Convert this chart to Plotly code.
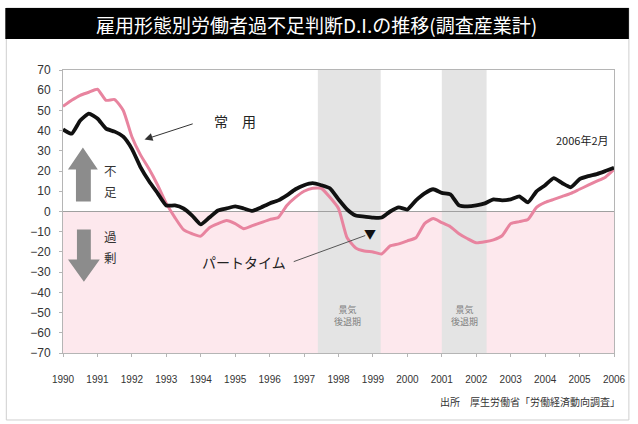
import plotly.graph_objects as go

# ---- data (quarterly survey: Feb, May, Aug, Nov) ----
year_labels = [str(y) for y in range(1990, 2007)]
quarters = [f"{y}/{m}" for y in range(1990, 2006) for m in (2, 5, 8, 11)] + ["2006/2"]

regular = [  # 常用
    40.6, 38.5, 45, 48.4,
    46, 41, 39.5, 37,
    31, 22, 15, 9,
    3, 3, 1.5, -2,
    -6.4, -3, 0.5, 1.5,
    2.5, 1.5, 0.3, 2,
    4, 5.5, 8, 11,
    13, 14, 13, 11.5,
    6, 1, -2, -2.5,
    -3, -3, 0, 2,
    1, 5.5, 9, 11,
    9.2, 8.5, 3, 2.5,
    3, 4, 6, 5.5,
    6, 7.5, 4.5, 10,
    13, 16.5, 14, 12,
    16, 17.5, 18.5, 20,
    21.6,
]
parttime = [  # パートタイム
    52, 55, 57.5, 59,
    60.5, 55, 55.4, 50,
    37, 28, 21, 13,
    4, -3, -9, -11,
    -12.2, -8, -6, -4.5,
    -6, -8.5, -7, -5.5,
    -4, -3, 3, 7,
    10, 11.5, 11.5, 7,
    1.5, -13, -18, -19.5,
    -20, -21, -17, -16,
    -14.5, -13, -6, -3.5,
    -5.5, -7.5, -11, -13.5,
    -15.5, -15, -14, -12,
    -6, -5, -4, 2,
    4.5, 6, 7.5, 9,
    11, 13, 15, 17,
    20.8,
]
recessions = [(29.6, 36.9), (44.0, 49.2)]  # category-index spans
y_ticks = list(range(-70, 71, 10))

CJK = "Noto Sans CJK JP"
NUM = "Liberation Sans, Arial, sans-serif"

fig = go.Figure()
fig.add_trace(go.Scatter(x=quarters, y=parttime, mode="lines",
                         line=dict(color="#e8849f", width=3, shape="spline", smoothing=0.5),
                         name="パートタイム", hoverinfo="skip"))
fig.add_trace(go.Scatter(x=quarters, y=regular, mode="lines",
                         line=dict(color="#111111", width=3.8, shape="spline", smoothing=0.5),
                         name="常用", hoverinfo="skip"))

shapes = []
# pink background below zero
shapes.append(dict(type="rect", xref="paper", yref="y", x0=0, x1=1, y0=-70, y1=0,
                   fillcolor="#fde8ed", line_width=0, layer="below"))
for a, b in recessions:
    shapes.append(dict(type="rect", xref="x", yref="y", x0=a, x1=b, y0=-70, y1=70,
                       fillcolor="#e4e4e4", line_width=0, layer="below"))
# title bar and outer frame
shapes.append(dict(type="rect", xref="paper", yref="paper", x0=-0.1029, x1=1.027,
                   y0=-0.2367, y1=1.219, line=dict(color="#cfcfcf", width=1)))
shapes.append(dict(type="rect", xref="paper", yref="paper", x0=-0.1047, x1=1.027,
                   y0=1.1095, y1=1.219, fillcolor="#000000", line_width=0))
# up arrow (不足)
shapes.append(dict(type="path", xref="paper", yref="y", fillcolor="#8c8c8c", line_width=0,
                   path="M 0.0235,5 L 0.0505,5 L 0.0505,20.8 L 0.0632,20.8 L 0.0361,31.7 "
                        "L 0.009,20.8 L 0.0235,20.8 Z"))
# down arrow (過剰)
shapes.append(dict(type="path", xref="paper", yref="y", fillcolor="#8c8c8c", line_width=0,
                   path="M 0.0253,-8.9 L 0.0505,-8.9 L 0.0505,-23.8 L 0.0668,-23.8 L 0.0379,-34.7 "
                        "L 0.009,-23.8 L 0.0253,-23.8 Z"))
# leader line for パートタイム
shapes.append(dict(type="line", xref="x", yref="y", x0=26.8, y0=-24.8, x1=35.1, y1=-11.9,
                   line=dict(color="#555555", width=1)))

ann = []
ann.append(dict(xref="paper", yref="paper", x=0.4603, y=1.1625, xanchor="center",
                yanchor="middle", showarrow=False,
                text="雇用形態別労働者過不足判断D.I.の推移(調査産業計)",
                font=dict(family=CJK, size=19, color="#ffffff")))
ann.append(dict(xref="x", yref="y", x=20.0, y=45, showarrow=False, text="常　用",
                font=dict(family=CJK, size=14, color="#222222")))
ann.append(dict(xref="x", yref="y", x=9.47, y=35.6, ax=15.24, ay=43.6, axref="x", ayref="y",
                text="", showarrow=True, arrowhead=2, arrowsize=1.6, arrowwidth=1,
                arrowcolor="#333333"))
ann.append(dict(xref="x", yref="y", x=21.0, y=-25.2, showarrow=False, text="パートタイム",
                font=dict(family=CJK, size=14, color="#222222")))
ann.append(dict(xref="x", yref="y", x=35.7, y=-10.9, showarrow=False, text="▼",
                font=dict(family=CJK, size=12, color="#111111")))
ann.append(dict(xref="x", yref="y", x=60.3, y=35.6, showarrow=False, text="2006年2月",
                font=dict(family=CJK, size=11, color="#222222")))
for ch, yv in (("不", 20.5), ("足", 10.0), ("過", -12.6), ("剰", -23.0)):
    ann.append(dict(xref="x", yref="y", x=5.55, y=yv, showarrow=False, text=ch,
                    font=dict(family=CJK, size=12.5, color="#333333")))
for xc in (33.0, 46.65):
    ann.append(dict(xref="x", yref="y", x=xc, y=-51.5, showarrow=False, text="景気<br>後退期",
                    font=dict(family=CJK, size=9, color="#808080")))
ann.append(dict(xref="paper", yref="paper", x=1.014, y=-0.17, xanchor="right",
                yanchor="middle", showarrow=False,
                text="出所　厚生労働省「労働経済動向調査」",
                font=dict(family=CJK, size=10, color="#333333")))

fig.update_layout(
    width=638, height=424,
    margin=dict(l=63, r=21, t=70, b=71),
    paper_bgcolor="#ffffff", plot_bgcolor="#ffffff",
    showlegend=False,
    shapes=shapes, annotations=ann,
    xaxis=dict(type="category", range=[0, len(quarters) - 1],
               tickmode="array", tickvals=quarters[::4], ticktext=year_labels,
               showgrid=False, zeroline=False, showline=True, mirror=True,
               linecolor="#b5b5b5", linewidth=1, ticks="outside", ticklen=3,
               tickcolor="#b5b5b5", ticklabelstandoff=14,
               tickfont=dict(family=NUM, size=10, color="#333333")),
    yaxis=dict(range=[-70, 70], tickmode="array", tickvals=y_ticks,
               showgrid=False, zeroline=True, zerolinecolor="#a0a0a0", zerolinewidth=1,
               showline=True, mirror=True, linecolor="#b5b5b5", linewidth=1,
               ticks="outside", ticklen=3, tickcolor="#b5b5b5", ticklabelstandoff=6,
               tickfont=dict(family=NUM, size=12, color="#333333")),
)

fig.write_html("out.html")
